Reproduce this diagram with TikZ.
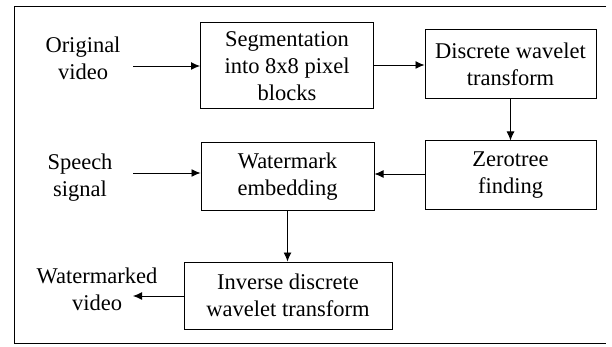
\documentclass[tikz,border=0pt]{standalone}
\usepackage{fontspec}
\setmainfont{Liberation Serif}
\usetikzlibrary{arrows.meta}
\begin{document}
\begin{tikzpicture}[x=1pt,y=-1pt,
  every node/.style={font=\fontsize{22.5}{27}\selectfont, align=center, inner sep=0pt},
  block/.style={draw, line width=1pt},
  arr/.style={line width=0.9pt, -{Latex[length=9pt,width=8pt]}}]
\useasboundingbox (0,0) rectangle (612,347);
% outer frame
\draw[line width=0.9pt] (606,6) -- (14,6) -- (14,343) -- (606,343);
% processing blocks
\node[block, minimum width=173pt, minimum height=86pt] (seg) at (287,66) {Segmentation\\into 8x8 pixel\\blocks};
\node[block, minimum width=171pt, minimum height=69pt] (dwt) at (510.5,64.5) {Discrete wavelet\\transform};
\node[block, minimum width=171pt, minimum height=69pt] (zt) at (510.5,175.5) {Zerotree\\finding};
\node[block, minimum width=173pt, minimum height=68pt] (wm) at (287.5,177) {Watermark\\embedding};
\node[block, minimum width=208pt, minimum height=67pt] (idwt) at (288,295.5) {Inverse discrete\\wavelet transform};
% inputs and output labels
\node (orig) at (83,58) {Original\\video};
\node (speech) at (80,178) {Speech\\signal};
\node (out) at (97,289) {Watermarked\\video};
\coordinate (o1) at (133,66);
\coordinate (s1) at (133,173);
\coordinate (w1) at (133,296);
% connectors
\draw[arr] (o1) -- (o1 -| seg.west);
\draw[arr] (seg.east |- 0,65) -- (dwt.west |- 0,65);
\draw[arr] (dwt.south) -- (zt.north);
\draw[arr] (zt.west |- 0,174) -- (wm.east |- 0,174);
\draw[arr] (s1) -- (s1 -| wm.west);
\draw[arr] (wm.south) -- (idwt.north -| wm.south);
\draw[arr] (idwt.west |- w1) -- (w1);
\end{tikzpicture}
\end{document}
